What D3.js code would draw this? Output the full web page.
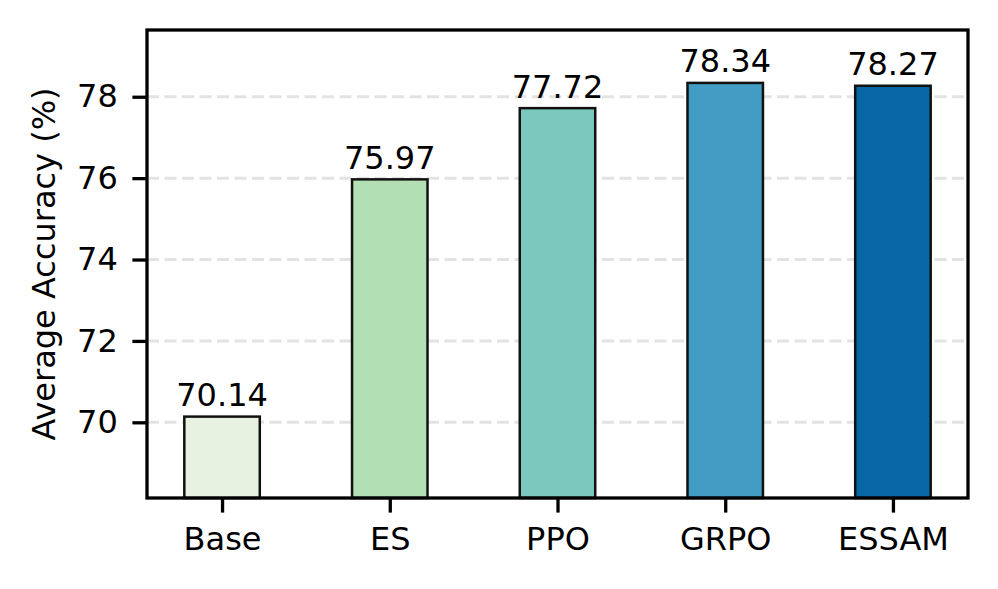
<!DOCTYPE html>
<html><head><meta charset="utf-8">
<script src="https://cdn.jsdelivr.net/npm/d3@7"></script>
<style>body{margin:0;background:#fff}svg{display:block}text{font-family:"DejaVu Sans",sans-serif;fill:#000}</style>
</head><body>
<script>
const categories = ["Base","ES","PPO","GRPO","ESSAM"];
const values = [70.14,75.97,77.72,78.34,78.27];
const colors = ["#e8f2e0","#b3dfb5","#7bc8bf","#439cc4","#0868a6"];
const yTicks = [70,72,74,76,78];
const yLabel = "Average Accuracy (%)";

const W=998,H=589;
const m={l:147,r:968,t:30,b:498};
const fs=32;
const svg=d3.select("body").append("svg").attr("width",W).attr("height",H);
const x=d3.scaleLinear().domain([-0.4475,4.4475]).range([m.l,m.r]);
const y=d3.scaleLinear().domain([68.14,79.64]).range([m.b,m.t]);
const bw=x(0.45)-x(0);

// grid
svg.append("g").selectAll("line").data(yTicks).join("line")
 .attr("x1",m.l).attr("x2",m.r).attr("y1",d=>y(d)).attr("y2",d=>y(d))
 .attr("stroke","#e3e3e3").attr("stroke-width",3).attr("stroke-dasharray","12,5.5");

// bars
svg.append("g").selectAll("rect").data(values).join("rect")
 .attr("x",(d,i)=>x(i)-bw/2).attr("width",bw)
 .attr("y",d=>y(d)).attr("height",d=>m.b-y(d))
 .attr("fill",(d,i)=>colors[i]).attr("stroke","#111").attr("stroke-width",2.5);

// value labels
svg.append("g").selectAll("text").data(values).join("text")
 .attr("x",(d,i)=>x(i)).attr("y",d=>y(d)-10.5).attr("text-anchor","middle")
 .attr("font-size",fs).text(d=>d.toFixed(2));

// axes
const yAxis=d3.axisLeft(y).tickValues(yTicks).tickSize(14.6).tickPadding(14.6).tickFormat(d3.format("d"));
const gy=svg.append("g").attr("transform",`translate(${m.l},0)`).call(yAxis);
const xAxis=d3.axisBottom(x).tickValues(d3.range(categories.length)).tickSize(14.6).tickPadding(14.6).tickFormat(i=>categories[i]);
const gx=svg.append("g").attr("transform",`translate(0,${m.b})`).call(xAxis);
[gy,gx].forEach(g=>{
  g.select(".domain").remove();
  g.selectAll("line").attr("stroke","#000").attr("stroke-width",3.3);
  g.selectAll("text").attr("font-size",fs).attr("font-family","DejaVu Sans").attr("fill","#000");
});

// frame
svg.append("rect").attr("x",m.l).attr("y",m.t).attr("width",m.r-m.l).attr("height",m.b-m.t)
 .attr("fill","none").attr("stroke","#000").attr("stroke-width",3.3);

svg.append("text").attr("transform",`translate(${44},${(m.t+m.b)/2}) rotate(-90)`)
 .attr("text-anchor","middle").attr("dominant-baseline","central").attr("font-size",fs).text(yLabel);
</script>
</body></html>
